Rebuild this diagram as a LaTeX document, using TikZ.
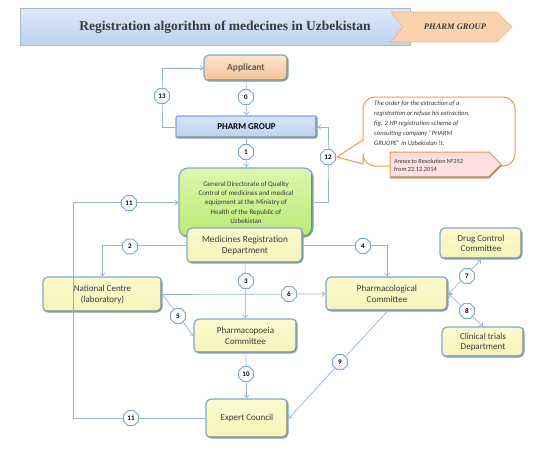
\documentclass[tikz,border=0pt]{standalone}
\usepackage{fontspec}
\setmainfont{Carlito}
\newfontfamily\titlefont{Liberation Serif}
\usetikzlibrary{shapes.geometric,shapes.arrows,arrows.meta,calc}
\definecolor{bdr}{HTML}{7FA7DA}
\definecolor{lnc}{HTML}{95B3D7}
\definecolor{yel}{HTML}{FDFBCF}
\definecolor{yelb}{HTML}{F6F2B8}
\definecolor{bev}{HTML}{8A8A70}
\definecolor{peach}{HTML}{FAD3AE}
\definecolor{peachb}{HTML}{F6C294}
\definecolor{lblue}{HTML}{D6E4F7}
\definecolor{lblueb}{HTML}{BCD2F0}
\definecolor{grn}{HTML}{DDF7AE}
\definecolor{grnb}{HTML}{B8EA74}
\definecolor{grnbev}{HTML}{6F9A35}
\definecolor{orng}{HTML}{F39A4A}
\definecolor{pinkf}{HTML}{FCE0E0}
\definecolor{txt}{HTML}{3A3A3A}
\tikzset{
  box/.style={draw=bdr, line width=1.2pt, rounded corners=5pt, top color=yel, bottom color=yelb,
    align=center, inner sep=0pt, font=\fontsize{9}{10.5}\selectfont, text=txt,
    path picture={\draw[bev, line width=3.4pt] (path picture bounding box.south west) -- (path picture bounding box.south east) -- (path picture bounding box.north east);}},
  conn/.style={lnc, line width=0.7pt},
  arr/.style={-{Straight Barb[length=3pt,width=5pt]}},
  darr/.style={{Straight Barb[length=3pt,width=5pt]}-{Straight Barb[length=3pt,width=5pt]}},
  hexa/.style={regular polygon, regular polygon sides=8, minimum size=16pt, inner sep=0pt,
    draw=bdr, line width=0.9pt, fill=white, font=\fontsize{7}{8}\bfseries\selectfont, text=black},
}
\begin{document}
\begin{tikzpicture}[x=1pt,y=-1pt]
\useasboundingbox (0,0) rectangle (544,456);
% title banner
\node[draw=lblueb!70!gray, line width=0.6pt, top color=lblue!80!white, bottom color=lblueb, minimum width=390pt, minimum height=37pt, inner sep=0pt] (banner) at (215,26.5) {};
\node[font=\titlefont\fontsize{13.5}{15}\bfseries\selectfont, text=txt] (title) at (225,27) {Registration algorithm of medecines in Uzbekistan};
\draw[draw=peachb!80!brown, line width=0.6pt, fill=peach] (391,12) -- (497,12) -- (512,27) -- (497,42) -- (391,42) -- (403,27) -- cycle;
\node[font=\titlefont\fontsize{8.5}{10}\bfseries\itshape\selectfont, text=txt] (pgtag) at (455,27) {PHARM GROUP};
% callout bubble
\draw[orng, line width=1pt, fill=white, rounded corners=12pt] (363,140) -- (363,97) -- (515,97) -- (515,166) -- (363,166) [sharp corners] -- (363,164) -- (337,157) -- (363,140) -- cycle;
\node[align=left, anchor=north west, inner sep=0pt, font=\fontsize{6.6}{10}\itshape\selectfont, text=txt] (ctext) at (374,101) {The order for the extraction of a\\registration or refuse his extraction.\\fig. 2 HP registration scheme of\\consulting company "PHARM\\GRUOPE" in Uzbekistan !t.};
\draw[draw=orng!80!brown, line width=1pt, fill=pinkf] (390,152) -- (489,152) -- (502,165) -- (489,178) -- (390,178) -- cycle;
\draw[bev, line width=1.2pt] (391,177) -- (489,177) -- (501,165);
\node[align=left, anchor=west, inner sep=0pt, font=\fontsize{6.3}{8}\selectfont, text=txt] (annex) at (394,165) {Annex to Resolution №352\\from 22.12.2014};
% nodes
\node[box, top color=peach!60!white, bottom color=peachb, minimum width=84pt, minimum height=26pt, font=\fontsize{9.5}{11}\bfseries\selectfont, text=black!65] (app) at (246,68) {Applicant};
\node[box, rounded corners=2pt, top color=lblue, bottom color=lblueb, minimum width=141pt, minimum height=22pt, font=\fontsize{9}{11}\bfseries\selectfont, text=black] (pg) at (246.5,127) {PHARM GROUP};
\node[box, rounded corners=9pt, top color=grn, bottom color=grnb, minimum width=134pt, minimum height=69pt, font=\fontsize{7}{9.3}\selectfont,
  path picture={\draw[grnbev, line width=3.6pt] (path picture bounding box.south west) -- (path picture bounding box.south east) -- (path picture bounding box.north east);}] (gd) at (246,202.5) {\raisebox{11pt}{\parbox{132pt}{\centering General Directorate of Quality\\Control of medicines and medical\\equipment at the Ministry of\\Health of the Republic of\\Uzbekistan}}};
\node[box, minimum width=116pt, minimum height=35pt, font=\fontsize{9.3}{11}\selectfont] (mrd) at (245,245.5) {Medicines Registration\\Department};
\node[box, minimum width=119pt, minimum height=35pt] (nc) at (102.5,294.5) {National Centre\\(laboratory)};
\node[box, minimum width=103pt, minimum height=34pt] (phc) at (245.5,336) {Pharmacopoeia\\Committee};
\node[box, minimum width=122pt, minimum height=34pt] (pc) at (387,294) {Pharmacological\\Committee};
\node[box, minimum width=82pt, minimum height=31pt] (dcc) at (481,243.5) {Drug Control\\Committee};
\node[box, minimum width=82pt, minimum height=30pt] (ctd) at (483,342) {Clinical trials\\Department};
\node[box, minimum width=82pt, minimum height=39pt] (ec) at (247,418.5) {Expert Council};
\coordinate (k11) at (73,300);
% connectors
\draw[conn, arr] (app) -- (pg);
\draw[conn, arr] (pg) -- (gd);
\draw[conn, arr] (pg.west) -| (162,97) |- (app.west);
\draw[conn, arr] (gd.east) -| (328,157) |- (pg.east);
\draw[conn, arr] (ec.west) -- (ec.west -| k11) -- (gd.west -| k11) -- (gd.west);
\draw[conn, arr] (mrd.west) -| (nc.north);
\draw[conn, arr] (mrd.east) -| (pc.north);
\draw[conn, arr] (mrd) -- (phc);
\draw[conn, arr] (nc.east) -- (pc.west);
\draw[conn, arr] (nc.east) -- (phc.west);
\draw[conn, darr] (pc.east) -- (dcc.south);
\draw[conn, darr] (pc.east) -- (ctd.north);
\draw[conn, arr] (pc.south) -- (ec.east);
\draw[conn, arr] (phc) -- (ec);
% labels
\node[hexa] (h0) at (246,97) {0};
\node[hexa] (h1) at (246,152) {1};
\node[hexa] (h13) at (162,96) {13};
\node[hexa] (h12) at (328,157) {12};
\node[hexa] (h11a) at (129,203) {11};
\node[hexa] (h11b) at (131,418) {11};
\node[hexa] (h2) at (130,246.5) {2};
\node[hexa] (h4) at (363,246) {4};
\node[hexa] (h3) at (246,281) {3};
\node[hexa] (h6) at (289,294) {6};
\node[hexa] (h5) at (178,316) {5};
\node[hexa] (h7) at (467,276) {7};
\node[hexa] (h8) at (467,311) {8};
\node[hexa] (h9) at (340,362) {9};
\node[hexa] (h10) at (246,374) {10};
\end{tikzpicture}
\end{document}
